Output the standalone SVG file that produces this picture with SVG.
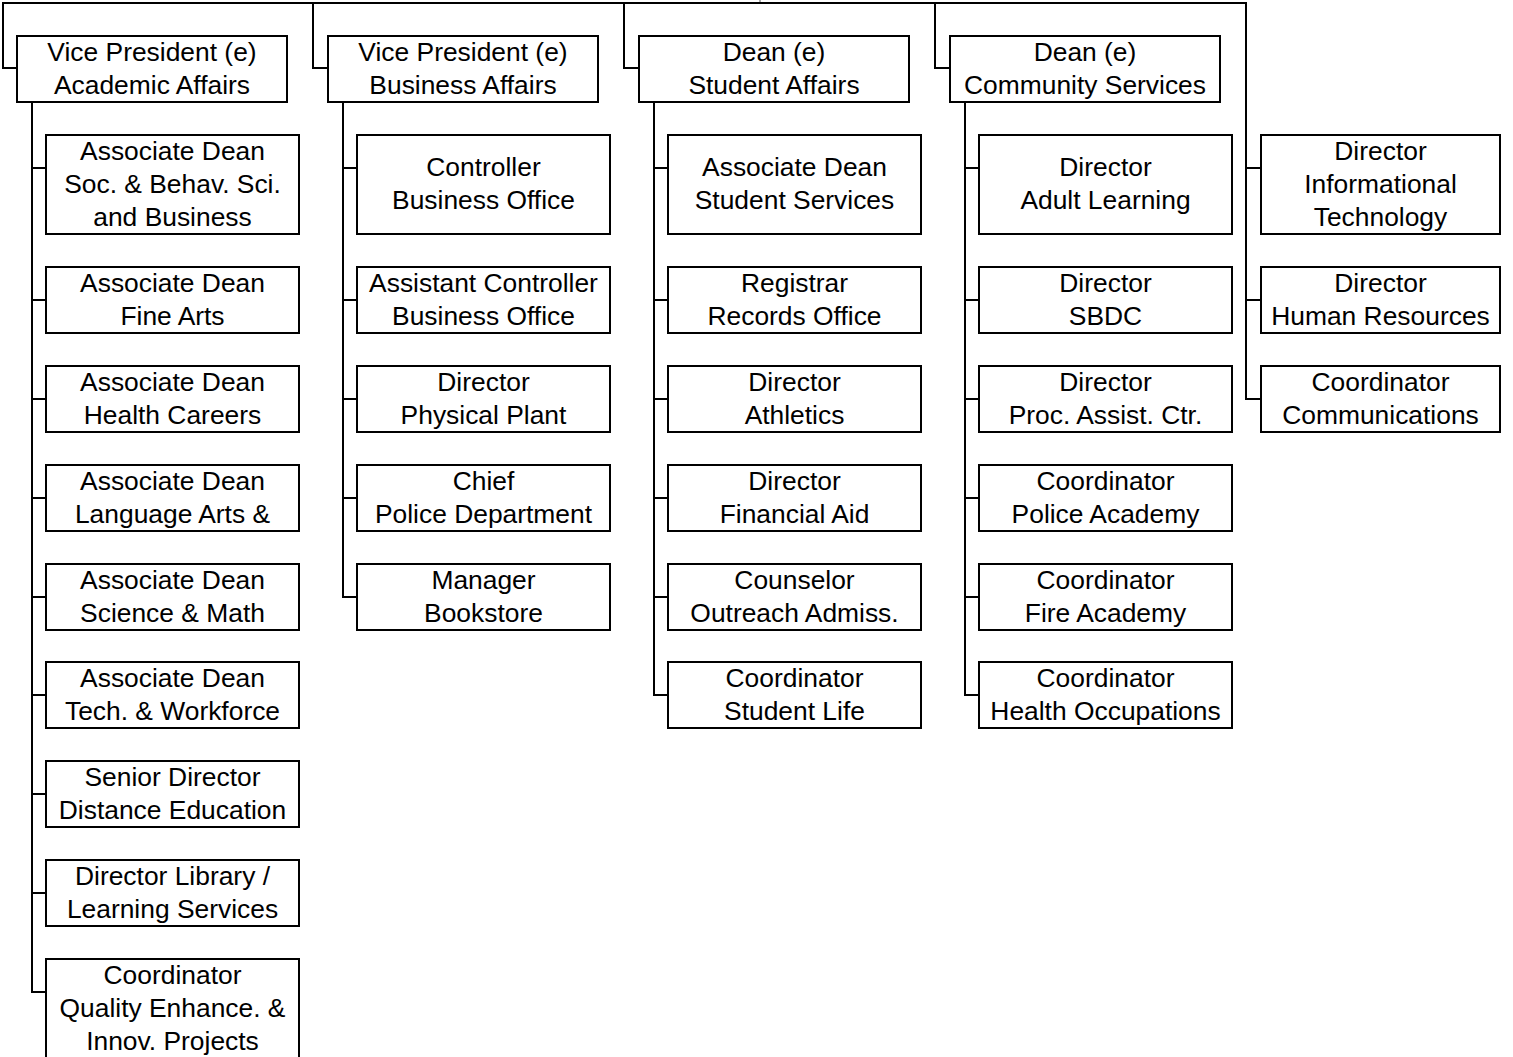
<svg xmlns="http://www.w3.org/2000/svg" width="1513" height="1057" viewBox="0 0 1513 1057">
<style>
.box{fill:#fff;stroke:#000;stroke-width:2}
.ln{fill:none;stroke:#000;stroke-width:2}
text{font-family:"Liberation Sans",Arial,sans-serif;font-size:26.4px;fill:#000;text-anchor:middle}
</style>
<rect width="1513" height="1057" fill="#fff"/>
<g id="connectors" class="ln">
<line x1="760" y1="0" x2="760" y2="3" stroke-width="1" stroke="#555"/>
<polyline points="17,68 3,68 3,3 1246,3 1246,399 1261,399"/>
<polyline points="313,3 313,68 328,68"/>
<polyline points="624,3 624,68 639,68"/>
<polyline points="935,3 935,68 950,68"/>
<line x1="1246" y1="168" x2="1261" y2="168"/>
<line x1="1246" y1="300" x2="1261" y2="300"/>
<polyline points="32,102 32,992 46,992"/>
<line x1="32" y1="168" x2="46" y2="168"/>
<line x1="32" y1="300" x2="46" y2="300"/>
<line x1="32" y1="399" x2="46" y2="399"/>
<line x1="32" y1="498" x2="46" y2="498"/>
<line x1="32" y1="597" x2="46" y2="597"/>
<line x1="32" y1="695" x2="46" y2="695"/>
<line x1="32" y1="794" x2="46" y2="794"/>
<line x1="32" y1="893" x2="46" y2="893"/>
<polyline points="343,102 343,597 357,597"/>
<line x1="343" y1="168" x2="357" y2="168"/>
<line x1="343" y1="300" x2="357" y2="300"/>
<line x1="343" y1="399" x2="357" y2="399"/>
<line x1="343" y1="498" x2="357" y2="498"/>
<polyline points="654,102 654,695 668,695"/>
<line x1="654" y1="168" x2="668" y2="168"/>
<line x1="654" y1="300" x2="668" y2="300"/>
<line x1="654" y1="399" x2="668" y2="399"/>
<line x1="654" y1="498" x2="668" y2="498"/>
<line x1="654" y1="597" x2="668" y2="597"/>
<polyline points="965,102 965,695 979,695"/>
<line x1="965" y1="168" x2="979" y2="168"/>
<line x1="965" y1="300" x2="979" y2="300"/>
<line x1="965" y1="399" x2="979" y2="399"/>
<line x1="965" y1="498" x2="979" y2="498"/>
<line x1="965" y1="597" x2="979" y2="597"/>
</g>
<g id="vp-academic"><rect class="box" x="17" y="36" width="270" height="66"/><text x="152" y="61">Vice President (e)</text><text x="152" y="94">Academic Affairs</text></g>
<g id="vp-business"><rect class="box" x="328" y="36" width="270" height="66"/><text x="463" y="61">Vice President (e)</text><text x="463" y="94">Business Affairs</text></g>
<g id="dean-student"><rect class="box" x="639" y="36" width="270" height="66"/><text x="774" y="61">Dean (e)</text><text x="774" y="94">Student Affairs</text></g>
<g id="dean-community"><rect class="box" x="950" y="36" width="270" height="66"/><text x="1085" y="61">Dean (e)</text><text x="1085" y="94">Community Services</text></g>

<g id="ad-soc"><rect class="box" x="46" y="135" width="253" height="99"/><text x="172.5" y="160">Associate Dean</text><text x="172.5" y="193">Soc. &amp; Behav. Sci.</text><text x="172.5" y="226">and Business</text></g>
<g id="ad-fine"><rect class="box" x="46" y="267" width="253" height="66"/><text x="172.5" y="292">Associate Dean</text><text x="172.5" y="325">Fine Arts</text></g>
<g id="ad-health"><rect class="box" x="46" y="366" width="253" height="66"/><text x="172.5" y="391">Associate Dean</text><text x="172.5" y="424">Health Careers</text></g>
<g id="ad-lang"><rect class="box" x="46" y="465" width="253" height="66"/><text x="172.5" y="490">Associate Dean</text><text x="172.5" y="523">Language Arts &amp;</text></g>
<g id="ad-sci"><rect class="box" x="46" y="564" width="253" height="66"/><text x="172.5" y="589">Associate Dean</text><text x="172.5" y="622">Science &amp; Math</text></g>
<g id="ad-tech"><rect class="box" x="46" y="662" width="253" height="66"/><text x="172.5" y="687">Associate Dean</text><text x="172.5" y="720">Tech. &amp; Workforce</text></g>
<g id="sd-distance"><rect class="box" x="46" y="761" width="253" height="66"/><text x="172.5" y="786">Senior Director</text><text x="172.5" y="819">Distance Education</text></g>
<g id="dir-library"><rect class="box" x="46" y="860" width="253" height="66"/><text x="172.5" y="885">Director Library /</text><text x="172.5" y="918">Learning Services</text></g>
<g id="coord-quality"><rect class="box" x="46" y="959" width="253" height="100"/><text x="172.5" y="984">Coordinator</text><text x="172.5" y="1017">Quality Enhance. &amp;</text><text x="172.5" y="1050">Innov. Projects</text></g>

<g id="controller"><rect class="box" x="357" y="135" width="253" height="99"/><text x="483.5" y="176">Controller</text><text x="483.5" y="209">Business Office</text></g>
<g id="asst-controller"><rect class="box" x="357" y="267" width="253" height="66"/><text x="483.5" y="292">Assistant Controller</text><text x="483.5" y="325">Business Office</text></g>
<g id="dir-plant"><rect class="box" x="357" y="366" width="253" height="66"/><text x="483.5" y="391">Director</text><text x="483.5" y="424">Physical Plant</text></g>
<g id="chief-police"><rect class="box" x="357" y="465" width="253" height="66"/><text x="483.5" y="490">Chief</text><text x="483.5" y="523">Police Department</text></g>
<g id="mgr-bookstore"><rect class="box" x="357" y="564" width="253" height="66"/><text x="483.5" y="589">Manager</text><text x="483.5" y="622">Bookstore</text></g>

<g id="ad-student-services"><rect class="box" x="668" y="135" width="253" height="99"/><text x="794.5" y="176">Associate Dean</text><text x="794.5" y="209">Student Services</text></g>
<g id="registrar"><rect class="box" x="668" y="267" width="253" height="66"/><text x="794.5" y="292">Registrar</text><text x="794.5" y="325">Records Office</text></g>
<g id="dir-athletics"><rect class="box" x="668" y="366" width="253" height="66"/><text x="794.5" y="391">Director</text><text x="794.5" y="424">Athletics</text></g>
<g id="dir-finaid"><rect class="box" x="668" y="465" width="253" height="66"/><text x="794.5" y="490">Director</text><text x="794.5" y="523">Financial Aid</text></g>
<g id="counselor"><rect class="box" x="668" y="564" width="253" height="66"/><text x="794.5" y="589">Counselor</text><text x="794.5" y="622">Outreach Admiss.</text></g>
<g id="coord-studentlife"><rect class="box" x="668" y="662" width="253" height="66"/><text x="794.5" y="687">Coordinator</text><text x="794.5" y="720">Student Life</text></g>

<g id="dir-adult"><rect class="box" x="979" y="135" width="253" height="99"/><text x="1105.5" y="176">Director</text><text x="1105.5" y="209">Adult Learning</text></g>
<g id="dir-sbdc"><rect class="box" x="979" y="267" width="253" height="66"/><text x="1105.5" y="292">Director</text><text x="1105.5" y="325">SBDC</text></g>
<g id="dir-proc"><rect class="box" x="979" y="366" width="253" height="66"/><text x="1105.5" y="391">Director</text><text x="1105.5" y="424">Proc. Assist. Ctr.</text></g>
<g id="coord-police"><rect class="box" x="979" y="465" width="253" height="66"/><text x="1105.5" y="490">Coordinator</text><text x="1105.5" y="523">Police Academy</text></g>
<g id="coord-fire"><rect class="box" x="979" y="564" width="253" height="66"/><text x="1105.5" y="589">Coordinator</text><text x="1105.5" y="622">Fire Academy</text></g>
<g id="coord-healthocc"><rect class="box" x="979" y="662" width="253" height="66"/><text x="1105.5" y="687">Coordinator</text><text x="1105.5" y="720">Health Occupations</text></g>

<g id="dir-it"><rect class="box" x="1261" y="135" width="239" height="99"/><text x="1380.5" y="160">Director</text><text x="1380.5" y="193">Informational</text><text x="1380.5" y="226">Technology</text></g>
<g id="dir-hr"><rect class="box" x="1261" y="267" width="239" height="66"/><text x="1380.5" y="292">Director</text><text x="1380.5" y="325">Human Resources</text></g>
<g id="coord-comm"><rect class="box" x="1261" y="366" width="239" height="66"/><text x="1380.5" y="391">Coordinator</text><text x="1380.5" y="424">Communications</text></g>
</svg>
